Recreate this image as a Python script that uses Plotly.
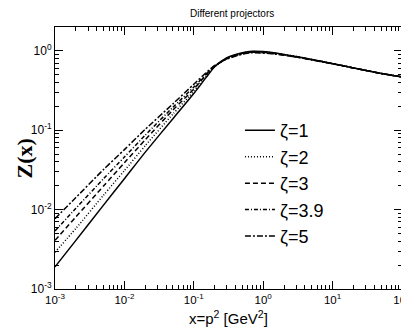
import plotly.graph_objects as go

# x = p^2 in GeV^2
x_vals = [0.001, 0.002, 0.005, 0.01, 0.02, 0.05, 0.1, 0.15, 0.2, 0.3, 0.5,
          0.7, 1, 1.5, 2, 3, 5, 10, 20, 50, 100]

z_zeta1 = [0.0019, 0.0041, 0.0114, 0.0245, 0.053, 0.14, 0.29, 0.46, 0.63, 0.82, 0.95,
           0.99, 0.98, 0.94, 0.9, 0.85, 0.78, 0.69, 0.61, 0.52, 0.47]
z_zeta2 = [0.0029, 0.0058, 0.0152, 0.031, 0.064, 0.16, 0.31, 0.48, 0.635, 0.81, 0.94,
           0.98, 0.97, 0.93, 0.9, 0.85, 0.78, 0.69, 0.61, 0.52, 0.47]
z_zeta3 = [0.0041, 0.0081, 0.0198, 0.039, 0.076, 0.18, 0.33, 0.5, 0.64, 0.8, 0.93,
           0.97, 0.96, 0.93, 0.89, 0.84, 0.78, 0.69, 0.61, 0.52, 0.47]
z_zeta39 = [0.0054, 0.0104, 0.0245, 0.046, 0.087, 0.195, 0.35, 0.51, 0.645, 0.8, 0.92,
            0.96, 0.95, 0.92, 0.89, 0.84, 0.77, 0.69, 0.61, 0.52, 0.47]
z_zeta5 = [0.0077, 0.0142, 0.032, 0.057, 0.103, 0.215, 0.38, 0.53, 0.655, 0.79, 0.91,
           0.95, 0.94, 0.91, 0.88, 0.84, 0.77, 0.69, 0.61, 0.52, 0.47]

series = [
    ("\u03b6=1", z_zeta1, "solid"),
    ("\u03b6=2", z_zeta2, "1px,2px"),
    ("\u03b6=3", z_zeta3, "5px,3px"),
    ("\u03b6=3.9", z_zeta39, "4px,2px,1px,2px"),
    ("\u03b6=5", z_zeta5, "6px,2px,2px,2px"),
]

x_ticks = [1e-3, 1e-2, 1e-1, 1, 10, 100]
x_ticktext = ["10<sup>-3</sup>", "10<sup>-2</sup>", "10<sup>-1</sup>",
              "10<sup>0</sup>", "10<sup>1</sup>", "10<sup>2</sup>"]
y_ticks = [1e-3, 1e-2, 1e-1, 1]
y_ticktext = ["10<sup>-3</sup>", "10<sup>-2</sup>", "10<sup>-1</sup>", "10<sup>0</sup>"]

fig = go.Figure()

for name, z, dash in series:
    fig.add_trace(go.Scatter(
        x=x_vals, y=z, name=name, mode="lines",
        line=dict(color="black", width=1.5, dash=dash, shape="spline", smoothing=0.6),
    ))

axis_common = dict(
    type="log",
    automargin=False,
    showgrid=False,
    zeroline=False,
    showline=True,
    linecolor="black",
    linewidth=1,
    mirror="allticks",
    ticks="inside",
    ticklen=8,
    tickcolor="black",
    minor=dict(ticks="inside", ticklen=4, tickcolor="black", dtick="D1", showgrid=False),
    tickfont=dict(family="Liberation Sans", size=12, color="black"),
)

fig.update_xaxes(axis_common, range=[-3, 2], tickvals=x_ticks, ticktext=x_ticktext,
                 ticklabeloverflow="allow",
                 tickfont=dict(family="Liberation Sans", size=11.5, color="black"))
fig.update_yaxes(axis_common, range=[-3, 0.301], tickvals=y_ticks, ticktext=y_ticktext)

fig.update_layout(
    width=409,
    height=327,
    paper_bgcolor="white",
    plot_bgcolor="white",
    margin=dict(l=47, r=15, t=19, b=46),
    title=dict(text="Different projectors", x=0.548, xanchor="center",
               y=1.0, yanchor="top", pad=dict(t=2),
               font=dict(family="Liberation Sans", size=10, color="black")),
    legend=dict(
        x=0.533, y=0.675, xanchor="left", yanchor="top",
        bgcolor="rgba(0,0,0,0)",
        font=dict(family="Liberation Sans", size=18, color="black"),
        tracegroupgap=0,
        itemwidth=30,
    ),
    showlegend=True,
    annotations=[
        dict(text="<b>Z(x)</b>", xref="paper", yref="paper", x=-0.088, y=0.5,
             xanchor="center", yanchor="middle", textangle=-90, showarrow=False,
             font=dict(family="Liberation Serif", size=22, color="black")),
        dict(text="x=p<sup>2</sup> [GeV<sup>2</sup>]", xref="paper", yref="paper",
             x=0.5, y=-0.108, xanchor="center", yanchor="middle", showarrow=False,
             font=dict(family="Liberation Sans", size=15, color="black")),
    ],
)

fig.write_html("out.html")
